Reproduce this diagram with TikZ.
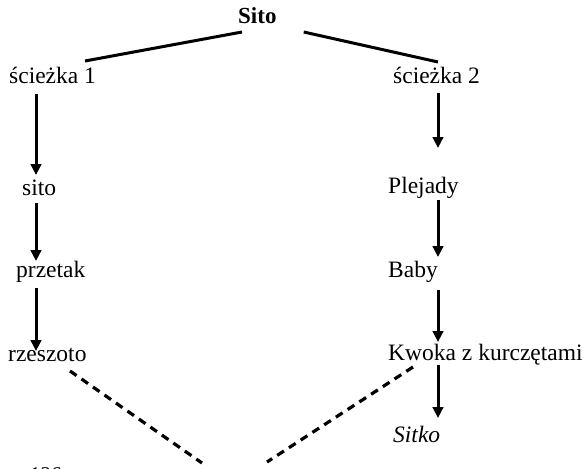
\documentclass[tikz,border=0pt]{standalone}
\usepackage{fontspec}
\setmainfont{Liberation Serif}
\usetikzlibrary{arrows.meta,calc}
\begin{document}
\begin{tikzpicture}[x=1pt,y=-1pt,
  lbl/.style={anchor=base west,inner sep=0pt,font=\fontsize{23.5}{28}\selectfont},
  arr/.style={line width=3pt,-{Triangle[length=11pt,width=10.5pt]}},
  solidline/.style={line width=3pt},
  dashline/.style={line width=3.2pt,dash pattern=on 8pt off 6pt}]
\useasboundingbox (0,0) rectangle (587,469);
\fill[white] (0,0) rectangle (587,469);
% columns
\coordinate (colL) at (36,0);
\coordinate (colR) at (438,0);
% nodes
\node[lbl,font=\fontsize{23}{28}\selectfont\bfseries] (root) at (238,23) {Sito};
\node[lbl] (s1) at (9,83) {ścieżka 1};
\node[lbl] (s2) at (393,83) {ścieżka 2};
\node[lbl] (sito) at (22,195) {sito};
\node[lbl] (przetak) at (16,277) {przetak};
\node[lbl] (rzeszoto) at (8,361) {rzeszoto};
\node[lbl] (plejady) at (388,193) {Plejady};
\node[lbl] (baby) at (388,277) {Baby};
\node[lbl] (kwoka) at (388,360) {Kwoka z kurczętami};
\node[lbl,font=\fontsize{23.5}{28}\selectfont\itshape] (sitko) at (393,442) {Sitko};
\begin{scope}
\clip (0,0) rectangle (587,469);
\node[lbl,font=\fontsize{21}{26}\selectfont] (page) at (30,481) {126};
\end{scope}
% solid lines from root
\draw[solidline] ($(root.base west)+(4,9)$) -- ($(s1.base west)+(76,-22)$);
\draw[solidline] ($(root.base east)+(27,9)$) -- ($(s2.base west)+(45,-21)$);
% left column arrows
\draw[arr] ($(s1.base -| colL)+(0,11)$) -- ($(sito.base -| colL)+(0,-20)$);
\draw[arr] ($(sito.base -| colL)+(0,8)$) -- ($(przetak.base -| colL)+(0,-16)$);
\draw[arr] ($(przetak.base -| colL)+(0,11)$) -- ($(rzeszoto.base -| colL)+(0,-10)$);
% right column arrows
\draw[arr] ($(s2.base -| colR)+(0,10)$) -- ($(plejady.base -| colR)+(0,-45)$);
\draw[arr] ($(plejady.base -| colR)+(0,7)$) -- ($(baby.base -| colR)+(0,-20)$);
\draw[arr] ($(baby.base -| colR)+(0,13)$) -- ($(kwoka.base -| colR)+(0,-18)$);
\draw[arr] ($(kwoka.base -| colR)+(0,5)$) -- ($(sitko.base -| colR)+(0,-24)$);
% dashed lines
\coordinate (endL) at (202,463);
\coordinate (endR) at (267,462);
\draw[dashline] ($(rzeszoto.base west)+(62,10)$) -- (endL);
\draw[dashline] ($(kwoka.base west)+(25,7)$) -- (endR);
\end{tikzpicture}
\end{document}
